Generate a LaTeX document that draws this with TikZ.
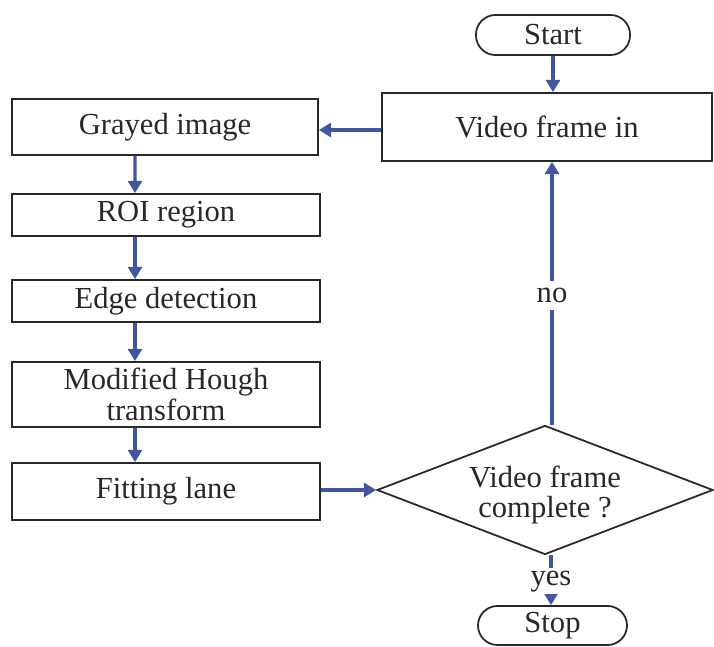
\documentclass[tikz,border=0pt]{standalone}
\usepackage{fontspec}
\setmainfont{Liberation Serif}
\usetikzlibrary{arrows.meta,shapes.geometric}
\definecolor{flowblue}{RGB}{66,86,160}
\definecolor{inkgray}{RGB}{40,40,40}
\tikzset{
  box/.style={draw=inkgray,line width=1pt,rectangle,inner sep=0pt,text=inkgray,align=center},
  term/.style={box,rounded corners=0.39cm},
  decision/.style={draw=inkgray,line width=1pt,diamond,aspect=2.6,inner sep=0pt,
    minimum width=6.72cm,minimum height=2.58cm,text=inkgray,align=center},
  flow/.style={draw=flowblue,line width=1.8pt,->},
  tag/.style={fill=white,text=inkgray,inner xsep=1pt,inner ysep=4pt}
}
\begin{document}
\begin{tikzpicture}[>={Triangle[width=8pt,length=7pt]},
  font=\fontsize{17.4}{17.6}\selectfont]
  \clip (0,0) rectangle (14.28,-12.94);
  \fill [white] (0,0) rectangle (14.28,-12.94);
  % right column
  \node [term,minimum width=3.08cm,minimum height=0.8cm] (start) at (11.06,-0.70) {Start};
  \node [box,minimum width=6.6cm,minimum height=1.36cm] (vfi) at (10.94,-2.54) {Video frame in};
  \node [decision,label={[text=inkgray,align=center,yshift=-0.1cm]center:{Video frame\\complete ?}}]
    (dec) at (10.90,-9.80) {};
  \node [term,minimum width=2.98cm,minimum height=0.78cm] (stop) at (11.05,-12.51) {Stop};
  % left column
  \node [box,minimum width=6.12cm,minimum height=1.12cm] (gray) at (3.30,-2.54) {Grayed image};
  \node [box,minimum width=6.16cm,minimum height=0.84cm] (roi) at (3.32,-4.30) {ROI region};
  \node [box,minimum width=6.16cm,minimum height=0.84cm] (edge) at (3.32,-6.02) {Edge detection};
  \node [box,minimum width=6.16cm,minimum height=1.30cm] (hough) at (3.32,-7.89) {Modified Hough\\transform};
  \node [box,minimum width=6.16cm,minimum height=1.14cm] (fit) at (3.32,-9.83) {Fitting lane};
  % connectors
  \draw [flow] (start) -- (start |- vfi.north);
  \draw [flow] (vfi.west |- 0,-2.60) -- (gray.east |- 0,-2.60);
  \draw [flow] ([xshift=-0.6cm]gray.south) -- ([xshift=-0.62cm]roi.north);
  \draw [flow] ([xshift=-0.62cm]roi.south) -- ([xshift=-0.62cm]edge.north);
  \draw [flow] ([xshift=-0.62cm]edge.south) -- ([xshift=-0.62cm]hough.north);
  \draw [flow] ([xshift=-0.62cm]hough.south) -- ([xshift=-0.62cm]fit.north);
  \draw [flow] (fit.east |- dec.west) -- (dec.west);
  \draw [flow] ([xshift=0.14cm]dec.north) -- ([xshift=0.14cm]dec.north |- vfi.south)
    node [tag,pos=0.49] {no};
  \draw [flow] ([xshift=0.12cm]dec.south) -- ([xshift=0.12cm]dec.south |- stop.north)
    node [tag,inner ysep=1.5pt,pos=0.52] {yes};
\end{tikzpicture}
\end{document}
